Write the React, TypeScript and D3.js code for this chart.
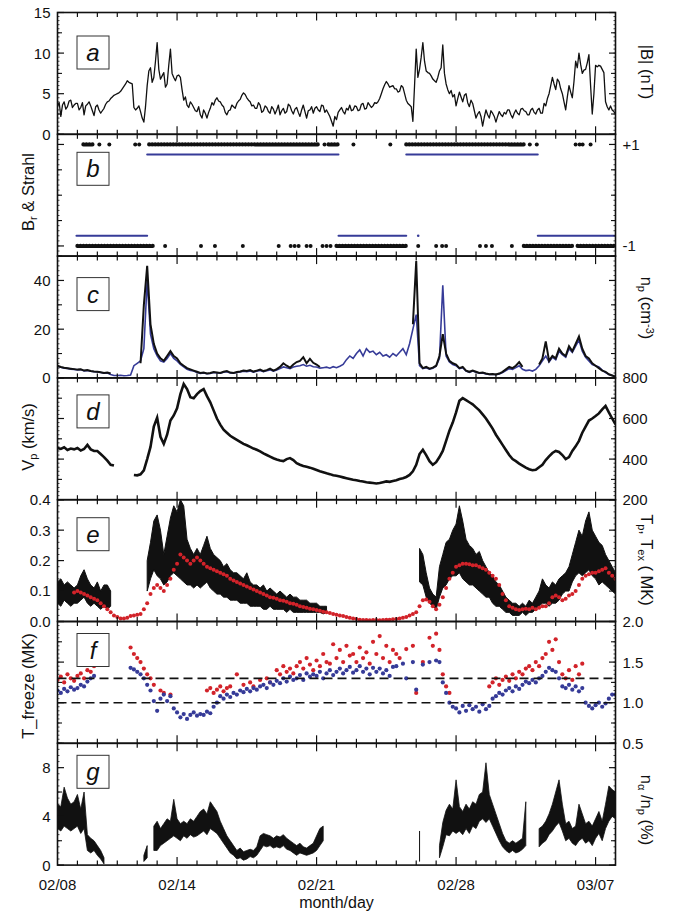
import React, { useEffect, useRef } from 'react';
import * as d3 from 'd3';

// samples every 4 h starting 02/08 00:00 UT (6 per day, 169 values)
const startDay = Date.UTC(2009, 1, 8);
const endDay = Date.UTC(2009, 2, 8);
const dateTickDays = [0, 6, 13, 20, 27];
const dateTickLabels = ['02/08', '02/14', '02/21', '02/28', '03/07'];

// |B| (nT), every 2 h (12 per day, 337 values)
const bMag = [
  3.5, 3.9, 2.2, 3.6, 4.0, 3.1, 3.4, 4.1, 4.2, 3.3, 3.6, 3.8,
  3.8, 3.0, 3.3, 3.9, 2.4, 3.5, 3.7, 4.0, 3.5, 2.9, 2.3, 3.4,
  3.6, 3.0, 2.6, 2.9, 3.2, 3.7, 4.0, 4.1, 4.4, 4.6, 4.8, 4.9,
  5.0, 5.1, 5.3, 5.6, 5.9, 6.2, 6.6, 6.4, 6.3, 6.2, 3.3, 3.0,
  3.2, 3.5, 2.8, 2.0, 1.5, 3.4, 6.0, 7.8, 8.2, 6.4, 7.0, 9.0,
  11.3, 8.0, 6.8, 7.2, 7.6, 5.8, 6.2, 8.5, 10.5, 7.5, 7.0, 6.6,
  7.2, 7.3, 7.0, 5.5, 4.2, 4.6, 3.6, 3.3, 4.0, 3.7, 3.3, 2.9,
  2.8, 3.4, 2.4, 2.0, 3.0, 2.6, 2.0, 2.7, 3.2, 3.9, 3.6, 4.2,
  4.5, 4.1, 4.0, 3.6, 3.4, 2.7, 2.4, 2.9, 3.0, 3.6, 3.4, 3.2,
  3.8, 4.1, 4.3, 4.8, 5.1, 4.9, 4.5, 4.2, 4.0, 3.5, 3.6, 3.2,
  3.2, 3.9, 3.6, 2.7, 2.9, 3.5, 3.3, 2.8, 2.6, 3.4, 3.1, 2.5,
  3.0, 3.6, 2.4, 2.9, 3.2, 2.6, 2.8, 3.7, 3.5, 2.9, 2.5, 3.1,
  3.3, 2.7, 2.2, 3.0, 3.6, 2.8, 2.0, 2.9, 3.0, 3.4, 2.6, 3.2,
  3.4, 3.0, 2.8, 3.6, 3.5, 2.7, 3.0, 2.6, 2.2, 1.6, 1.0, 2.2,
  1.8, 2.7, 3.0, 3.3, 2.8, 2.5, 3.2, 3.0, 3.6, 2.9, 3.0, 3.5,
  3.4, 2.9, 3.0, 3.7, 3.8, 3.1, 3.2, 3.9, 3.6, 3.3, 3.5, 3.9,
  3.8, 4.0, 4.4, 5.0, 5.6, 6.1, 6.5, 6.2, 5.8, 5.9, 6.0, 5.6,
  5.6, 5.2, 5.3, 6.0, 5.8, 5.0, 4.2, 3.8, 3.6, 3.4, 1.6, 6.0,
  10.5, 7.0, 8.0, 9.5, 11.3, 9.0, 7.8, 7.6, 7.5, 7.2, 6.8, 6.6,
  6.4, 7.0, 7.8, 8.2, 11.0, 7.5, 6.2, 5.5, 5.0, 5.4, 4.6, 4.9,
  3.5, 4.4, 5.2, 4.6, 4.0, 4.8, 5.0, 3.9, 3.4, 4.2, 3.8, 2.9,
  2.0, 2.5, 2.8, 2.2, 1.0, 2.1, 3.0, 2.4, 2.0, 2.9, 2.6, 2.2,
  1.5, 2.2, 2.8, 2.4, 2.2, 2.7, 2.5, 3.0, 3.0, 2.4, 2.0, 2.6,
  3.0, 2.6, 2.4, 3.1, 3.2, 2.9, 2.8, 2.4, 2.4, 3.0, 3.2, 2.7,
  2.5, 3.0, 3.2, 2.6, 2.6, 3.8, 3.5, 4.4, 5.0, 6.0, 7.0, 6.2,
  5.5, 6.8, 6.5, 5.6, 5.0, 4.0, 3.0, 4.6, 6.0, 5.2, 4.5, 6.5,
  9.0, 8.2, 10.0, 8.6, 7.5, 7.9, 8.0, 8.8, 9.8, 6.0, 2.5, 5.0,
  8.5, 8.3, 8.5, 8.4, 8.0, 7.6, 4.0, 3.4, 3.0, 3.5, 3.0, 2.8,
  2.5,
];

// Br sign dots (days since 02/08): dense runs and single points
const brPlusRuns = [[1.3, 1.9], [4.6, 13.2], [13.6, 14.1], [17.5, 23.4]];
const brPlusDots = [2.1, 2.6, 3.9, 4.1, 13.4, 14.85, 16.7, 23.7, 24.05, 26.0, 26.2, 26.35, 26.75];
const brMinusRuns = [[1.0, 4.8], [14.0, 17.6], [23.4, 25.9], [26.1, 28]];
const brMinusDots = [5.4, 7.2, 7.9, 9.3, 11.1, 11.7, 11.9, 12.1, 12.5, 12.7, 13.3, 13.5, 13.7, 18.1, 19.0, 19.3, 19.5, 21.2, 21.5, 21.8, 22.8];
// strahl polarity sectors
const strahlPlus = [[4.5, 14.1], [17.5, 24.1]];
const strahlMinus = [[0.95, 4.5], [14.1, 17.5], [24.1, 28]];
const strahlMinusDots = [18.1];

// n_p (cm^-3), two instruments
const npBlack = [
  5.0, 4.5, 4.2, 4.0, 3.8, 3.6,
  3.4, 3.5, 3.0, 3.2, 2.8, 2.6,
  2.5, 2.3, 2.0, 2.2, 1.8, null,
  null, null, null, null, null, null,
  null, 6.0, 30.0, 46.0, 22.0, 14.0,
  10.0, 8.0, 7.0, 9.0, 11.0, 9.0,
  8.0, 6.0, 5.0, 4.0, 3.5, 3.0,
  2.5, 2.0, 2.2, 1.8, 2.0, 2.4,
  2.2, 2.0, 2.5, 2.8, 2.2, 2.0,
  2.4, 2.6, 3.0, 2.8, 3.2, 2.6,
  3.0, 3.4, 2.8, 3.2, 3.8, 3.0,
  3.6, 4.5, 6.0, 5.0, 4.2, 5.5,
  6.5, 7.0, 8.5, 6.0, 7.8, 6.2,
  5.5, 4.5, null, null, null, null,
  null, null, null, null, null, null,
  null, null, null, null, null, null,
  null, null, null, null, null, null,
  null, null, null, null, null, 22.0,
  48.0, 6.0, 4.0, 4.5, 3.8, 4.2,
  5.0, 9.0, 18.0, 10.0, 7.0, 6.0,
  5.5, 4.0, 4.5, 3.0, 2.5, 3.0,
  2.5, 2.0, 2.2, 1.8, 1.5, 1.6,
  1.4, 1.8, 2.5, 3.5, 4.5, 4.0,
  5.0, 6.5, 4.5, null, null, null,
  null, 5.5, 8.0, 15.0, 7.0, 9.0,
  8.0, 12.0, 10.0, 9.0, 13.0, 11.0,
  14.0, 17.0, 12.0, 9.0, 8.0, 6.0,
  5.0, 4.0, 3.0, 2.5, 1.5, 1.0,
  0.5,
];
const npBlue = [
  4.8, 4.4, 4.0, 3.9, 3.6, 3.5,
  3.3, 3.4, 2.9, 3.0, 2.7, 2.5,
  2.4, 2.2, 1.9, 2.0, 1.4, 1.0,
  1.0, 1.1, 0.9, 1.0, 1.2, 5.0,
  6.0, 7.0, 12.0, 40.0, 18.0, 12.0,
  9.0, 7.0, 6.5, 8.0, 10.0, 8.0,
  7.0, 5.5, 4.5, 3.5, 3.0, 2.8,
  2.2, 1.8, 2.0, 1.7, 1.8, 2.2,
  2.0, 1.9, 2.3, 2.5, 2.0, 1.9,
  2.2, 2.4, 2.7, 2.5, 2.8, 2.4,
  2.7, 3.0, 2.6, 2.9, 3.3, 2.8,
  3.2, 3.8, 4.5, 4.2, 3.8, 4.5,
  4.8, 5.0, 5.5, 4.8, 5.2, 4.6,
  4.5, 4.0, 4.2, 4.4, 4.0, 4.6,
  4.2, 4.8, 5.5, 7.5, 9.0, 8.0,
  10.0, 11.5, 9.0, 12.0, 10.5, 11.0,
  9.5, 10.5, 9.0, 9.5, 8.5, 10.0,
  9.0, 10.5, 12.0, 9.5, 14.0, 20.0,
  26.0, 5.0, 3.8, 4.2, 3.6, 4.0,
  4.8, 8.0, 38.0, 9.0, 6.5, 5.5,
  5.0, 3.8, 4.2, 2.8, 2.3, 2.8,
  2.3, 1.9, 2.0, 1.6, 1.4, 1.5,
  1.3, 1.6, 2.2, 3.0, 3.8, 3.5,
  4.2, 5.0, 3.5, 3.0, 3.2, 2.8,
  3.5, 5.0, 7.0, 9.0, 6.5, 8.5,
  7.5, 11.0, 9.5, 8.5, 12.0, 10.5,
  13.0, 15.5, 11.0, 8.5, 7.0, 5.5,
  5.0, 4.5, 3.2, 2.2, 1.4, 1.0,
  0.5,
];

// V_p (km/s)
const vp = [
  455, 450, 458, 445, 452, 448,
  455, 442, 450, 470, 448, 440,
  440, 425, 410, 392, 372, 368,
  null, null, null, null, null, 322,
  320, 325, 345, 400, 460, 560,
  604, 510, 475, 520, 590, 615,
  650, 720, 770, 745, 705, 700,
  720, 735, 745, 710, 680, 640,
  600, 570, 545, 530, 515, 505,
  495, 485, 475, 468, 460, 452,
  446, 438, 428, 420, 412, 404,
  398, 393, 390, 400, 405, 395,
  380, 372, 366, 362, 358, 352,
  346, 340, 335, 330, 326, 320,
  318, 314, 310, 306, 302, 298,
  296, 292, 290, 286, 284, 282,
  280, 282, 286, 290, 288, 292,
  296, 302, 306, 312, 322, 340,
  372, 425, 446, 420, 390, 372,
  385, 410, 440, 490, 540, 580,
  630, 687, 700, 690, 680, 670,
  655, 640, 620, 600, 575, 550,
  520, 495, 470, 445, 420, 400,
  390, 378, 368, 358, 350, 345,
  347, 360, 372, 395, 413, 430,
  440, 435, 420, 400, 410, 440,
  463, 490, 530, 560, 590, 600,
  612, 625, 645, 662, 630, 600,
  571,
];

// T_p spread (MK): [low, high] per 4 h
const tpBand = [
  [0.06, 0.13], [0.05, 0.14], [0.07, 0.12], [0.06, 0.13], [0.05, 0.12], [0.06, 0.11],
  [0.06, 0.12], [0.07, 0.15], [0.08, 0.17], [0.06, 0.14], [0.05, 0.12], [0.06, 0.11],
  [0.05, 0.13], [0.04, 0.10], [0.05, 0.12], [0.04, 0.12], [0.05, 0.10], null,
  null, null, null, null, null, null,
  null, null, null, [0.10, 0.20], [0.14, 0.26], [0.17, 0.33],
  [0.15, 0.35], [0.14, 0.30], [0.12, 0.22], [0.13, 0.28], [0.15, 0.34], [0.16, 0.38],
  [0.15, 0.36], [0.14, 0.40], [0.13, 0.38], [0.12, 0.27], [0.12, 0.24], [0.11, 0.22],
  [0.12, 0.24], [0.11, 0.22], [0.12, 0.25], [0.13, 0.28], [0.11, 0.24], [0.10, 0.22],
  [0.09, 0.21], [0.09, 0.20], [0.08, 0.18], [0.08, 0.19], [0.07, 0.17], [0.07, 0.16],
  [0.07, 0.16], [0.06, 0.15], [0.06, 0.14], [0.06, 0.16], [0.05, 0.13], [0.05, 0.12],
  [0.05, 0.12], [0.05, 0.11], [0.04, 0.12], [0.04, 0.10], [0.05, 0.11], [0.04, 0.10],
  [0.04, 0.09], [0.04, 0.10], [0.04, 0.09], [0.03, 0.08], [0.04, 0.09], [0.03, 0.08],
  [0.03, 0.08], [0.03, 0.07], [0.03, 0.07], [0.03, 0.07], [0.03, 0.06], [0.03, 0.06],
  [0.03, 0.06], [0.03, 0.05], [0.025, 0.05], [0.03, 0.05], null, null,
  null, null, null, null, null, null,
  null, null, null, null, null, null,
  null, null, null, null, null, null,
  null, null, null, null, null, null,
  null, [0.13, 0.24], [0.12, 0.22], [0.08, 0.16], [0.06, 0.11], [0.05, 0.09],
  [0.04, 0.08], [0.08, 0.18], [0.11, 0.22], [0.12, 0.26], [0.14, 0.27], [0.15, 0.30],
  [0.15, 0.32], [0.16, 0.38], [0.14, 0.33], [0.13, 0.27], [0.12, 0.25], [0.12, 0.24],
  [0.11, 0.22], [0.10, 0.23], [0.09, 0.20], [0.08, 0.18], [0.08, 0.16], [0.06, 0.15],
  [0.05, 0.13], [0.05, 0.12], [0.04, 0.10], [0.03, 0.08], [0.03, 0.07], [0.02, 0.06],
  [0.02, 0.06], [0.02, 0.05], [0.03, 0.06], [0.02, 0.05], [0.03, 0.07], [0.03, 0.06],
  [0.04, 0.08], [0.05, 0.10], [0.06, 0.14], [0.06, 0.12], [0.05, 0.11], [0.06, 0.13],
  [0.06, 0.12], [0.07, 0.14], [0.09, 0.15], [0.10, 0.16], [0.10, 0.18], [0.13, 0.22],
  [0.15, 0.26], [0.16, 0.30], [0.15, 0.28], [0.16, 0.33], [0.17, 0.36], [0.15, 0.30],
  [0.14, 0.28], [0.12, 0.26], [0.13, 0.25], [0.12, 0.22], [0.11, 0.20], [0.10, 0.18],
  [0.09, 0.16],
];

// T_ex (MK)
const tex = [
  null, null, null, null, null, 0.095,
  0.10, 0.095, 0.09, 0.085, 0.08, 0.075,
  0.07, 0.06, 0.05, 0.04, 0.03, 0.02,
  0.015, 0.01, 0.01, 0.012, 0.018, 0.02,
  0.022, 0.025, 0.04, 0.06, 0.09, 0.11,
  0.12, 0.11, 0.10, 0.12, 0.14, 0.17,
  0.19, 0.22, 0.21, 0.20, 0.19, 0.20,
  0.21, 0.20, 0.19, 0.18, 0.175, 0.17,
  0.165, 0.16, 0.155, 0.15, 0.14, 0.135,
  0.13, 0.125, 0.12, 0.115, 0.11, 0.105,
  0.10, 0.095, 0.09, 0.085, 0.08, 0.078,
  0.075, 0.07, 0.068, 0.065, 0.06, 0.058,
  0.055, 0.05, 0.048, 0.045, 0.042, 0.04,
  0.038, 0.035, 0.032, 0.03, 0.028, 0.025,
  0.022, 0.02, 0.018, 0.015, 0.012, 0.01,
  0.008, 0.006, 0.005, 0.005, 0.004, 0.005,
  0.005, 0.004, 0.005, 0.006, 0.006, 0.007,
  0.008, 0.01, 0.012, 0.015, 0.02, 0.025,
  0.03, 0.05, 0.07, 0.072, 0.065, 0.05,
  0.04, 0.055, 0.08, 0.11, 0.14, 0.16,
  0.18, 0.185, 0.19, 0.19, 0.188, 0.185,
  0.185, 0.18, 0.175, 0.17, 0.16, 0.15,
  0.14, 0.12, 0.09, 0.07, 0.05, 0.045,
  0.04, 0.038, 0.04, 0.042, 0.04, 0.045,
  0.04, 0.045, 0.05, 0.05, 0.06, 0.08,
  0.085, 0.08, 0.07, 0.075, 0.085, 0.09,
  0.10, 0.12, 0.14, 0.15, 0.155, 0.16,
  0.16, 0.165, 0.17, 0.175, 0.16, 0.15,
  0.14,
];

// freeze-in temperatures (MK), two ion pairs
const tfRed = [
  1.28, 1.32, 1.25, 1.35, 1.3, 1.27,
  1.33, 1.36, 1.3, 1.4, 1.38, 1.45,
  null, null, null, null, null, null,
  null, null, null, null, 1.68, 1.6,
  1.55, 1.5, 1.42, 1.35, 1.3, 1.22,
  null, 1.15, 1.12, null, 1.1, null,
  null, null, null, null, null, null,
  null, null, null, 1.15, 1.18, 1.12,
  1.16, 1.2, 1.14, 1.18, 1.2, null,
  1.35, null, 1.22, null, 1.25, 1.2,
  null, 1.28, null, 1.3, 1.25, null,
  1.4, 1.35, 1.45, 1.38, 1.42, 1.36,
  1.45, 1.5, 1.42, 1.55, 1.47, 1.4,
  1.52, 1.45, 1.6, 1.5, 1.48, 1.72,
  1.55, 1.65, 1.5, 1.7, 1.58, 1.6,
  1.5, 1.68, 1.55, 1.62, 1.48, 1.75,
  1.6, 1.82, 1.55, 1.7, 1.5, 1.65,
  1.6, 1.55, null, 1.66, null, 1.7,
  1.12, null, 1.5, null, 1.8, 1.7,
  1.85, 1.65, 1.35, 1.2, 1.12, null,
  null, null, null, null, null, null,
  null, null, null, null, 1.2, 1.25,
  1.3, 1.22, 1.28, 1.32, 1.27, 1.35,
  1.3, 1.38, 1.35, 1.42, 1.45, 1.4,
  1.5, 1.45, 1.55, 1.6, 1.75, 1.65,
  1.78, 1.5, 1.35, 1.3, 1.4, 1.28,
  1.45, 1.35, 1.48, null, null, null,
  null, null, null, null, null, null,
  null,
];
const tfBlue = [
  1.15, 1.12, 1.17, 1.14, 1.19, 1.16,
  1.18, 1.22, 1.2, 1.26, 1.3, 1.33,
  null, null, null, null, null, null,
  null, null, null, null, 1.43, 1.41,
  1.38, 1.35, 1.3, 1.22, 1.15, 1.02,
  0.9, 1.05, 1.1, 1.02, 1.08, 0.93,
  0.88, 0.82, 0.86, 0.8, 0.85, 0.88,
  0.84, 0.86, 0.85, 0.89, 0.87, 0.95,
  1.0, 1.08, 1.05, 1.1, 1.07, 1.12,
  1.1, 1.15, 1.13, 1.17, 1.14, 1.18,
  1.16, 1.2, 1.22, 1.18, 1.25, 1.22,
  1.27, 1.24, 1.3, 1.26, 1.32, 1.28,
  1.3, 1.34, 1.28, 1.36, 1.32, 1.35,
  1.33, 1.38, 1.3, 1.36, 1.4, 1.34,
  1.38, 1.42, 1.36, 1.4, 1.44, 1.37,
  1.4, 1.45, 1.38, 1.42, 1.35, 1.43,
  1.38, 1.42, 1.36, 1.4, 1.33, 1.44,
  1.45, null, 1.48, 1.3, null, 1.5,
  1.16, null, 1.47, null, 1.5, null,
  1.52, 1.5, 1.25, 1.12, 1.0, 0.95,
  0.93, 0.88, 0.96, 0.9, 0.97, 0.92,
  0.95, 0.89, 0.98, 0.92, 0.96, 1.05,
  1.08, 1.12, 1.1, 1.15, 1.18, 1.14,
  1.2, 1.17, 1.22, 1.26, 1.24, 1.28,
  1.25, 1.3, 1.33, 1.38, 1.43, 1.4,
  1.38, 1.3, 1.2, 1.18, 1.22, 1.16,
  1.2, 1.14, 1.18, 1.0, 0.96, 0.93,
  0.97, 1.0, 0.95, 0.99, 1.05, 1.1,
  1.1,
];
const tfRefLevels = [1.3, 1.0];

// n_alpha / n_p (%) spread: [low, high]
const alphaBand = [
  [3.0, 5.0], [2.8, 4.8], [3.2, 6.4], [3.0, 5.5], [2.8, 5.0], [3.0, 5.2],
  [3.2, 5.8], [2.6, 4.6], [3.0, 6.0], [1.2, 2.5], [1.0, 2.2], [1.2, 2.0],
  [0.8, 1.6], [0.5, 1.2], [0.1, 0.6], null, null, null,
  null, null, null, null, null, null,
  null, null, [0.3, 0.8], [0.6, 1.6], null, [1.2, 3.2],
  [1.2, 3.6], [1.6, 3.0], [1.8, 3.4], [2.0, 3.8], [2.2, 3.6], [2.4, 5.4],
  [2.2, 3.8], [2.0, 3.4], [2.4, 3.6], [2.2, 3.4], [2.5, 3.8], [2.3, 3.6],
  [2.4, 4.0], [2.6, 4.4], [2.8, 4.6], [2.5, 4.2], [3.0, 5.2], [2.8, 4.8],
  [2.6, 4.4], [2.2, 3.6], [1.8, 3.0], [1.4, 2.4], [1.0, 2.0], [0.8, 1.6],
  [0.5, 1.2], [0.6, 1.4], [0.4, 1.1], [0.5, 1.2], [0.7, 1.3], [0.6, 1.2],
  [0.8, 1.5], [1.2, 2.4], [1.6, 2.6], [1.5, 2.5], [1.6, 2.4], [1.4, 2.2],
  [1.5, 2.4], [1.4, 2.3], [1.6, 2.5], [1.3, 2.2], [1.2, 2.0], [1.0, 1.8],
  [0.8, 1.6], [1.0, 1.8], [0.9, 1.5], [0.8, 1.4], [0.9, 1.6], [1.0, 1.8],
  [1.2, 2.4], [1.6, 3.0], [2.0, 3.2], null, null, null,
  null, null, null, null, null, null,
  null, null, null, null, null, null,
  null, null, null, null, null, null,
  null, null, null, null, null, null,
  null, [0.3, 2.8], null, null, null, null,
  null, [0.6, 1.6], [1.5, 3.5], [2.5, 4.5], [2.4, 5.0], [2.8, 4.6],
  [2.6, 7.0], [2.8, 4.8], [2.5, 4.4], [3.0, 5.0], [2.6, 4.6], [3.2, 5.2],
  [3.0, 5.0], [3.6, 5.8], [3.8, 6.0], [3.5, 8.4], [3.8, 5.8], [3.2, 5.0],
  [2.6, 4.2], [2.0, 3.4], [1.5, 2.6], [1.2, 2.0], [1.0, 1.8], [1.2, 2.0],
  [1.0, 1.8], [1.1, 2.0], [1.3, 2.2], [1.6, 5.2], null, null,
  null, [1.5, 3.0], [1.8, 3.2], [2.0, 3.6], [2.5, 4.2], [2.8, 5.0],
  [3.2, 6.0], [3.5, 7.0], [2.8, 5.0], [2.0, 3.4], [2.2, 3.6], [1.8, 3.0],
  [1.6, 3.2], [2.0, 5.0], [2.2, 4.2], [1.8, 3.4], [2.0, 3.6], [1.6, 3.2],
  [2.2, 3.8], [2.6, 4.4], [2.0, 3.6], [3.0, 5.0], [3.6, 6.5], [4.0, 6.2],
  [3.8, 6.0],
];

const BLUE = '#363b98';
const RED = '#d2232a';
const FONT = '"Liberation Sans", Arial, sans-serif';

const panels = [
  { id: 'a', domain: [0, 15], labels: [0, 5, 10, 15], side: 'left', fmt: (v) => String(v), mid: [2.5, 7.5, 12.5], fine: 0.5, boxY: 23.5 },
  { id: 'b', domain: [-1.2, 1.2], labels: [1, -1], side: 'right', fmt: (v) => (v > 0 ? '+1' : '-1'), mid: [-0.5, 0, 0.5], fine: 0.1, boxY: 18 },
  { id: 'c', domain: [0, 50], labels: [0, 20, 40], side: 'left', fmt: (v) => String(v), mid: [10, 30, 50], fine: 2, boxY: 21.5 },
  { id: 'd', domain: [200, 800], labels: [200, 400, 600, 800], side: 'right', fmt: (v) => String(v), mid: [300, 500, 700], fine: 20, boxY: 17 },
  { id: 'e', domain: [0, 0.4], labels: [0, 0.1, 0.2, 0.3, 0.4], side: 'left', fmt: (v) => v.toFixed(1), mid: [], fine: 0.02, boxY: 18 },
  { id: 'f', domain: [0.5, 2.0], labels: [0.5, 1.0, 1.5, 2.0], side: 'right', fmt: (v) => v.toFixed(1), mid: [0.75, 1.25, 1.75], fine: 0.05, boxY: 12 },
  { id: 'g', domain: [0, 10], labels: [0, 4, 8], side: 'left', fmt: (v) => String(v), mid: [2, 6, 10], fine: 0.5, boxY: 12 },
];

export default function App() {
  const ref = useRef(null);

  useEffect(() => {
    const svg = d3.select(ref.current);
    svg.selectAll('*').remove();

    const X0 = 57.5, X1 = 615.5, TOP = 12.5, PH = 121.8;
    const x = d3.scaleUtc().domain([new Date(startDay), new Date(endDay)]).range([X0, X1]);
    const at = (i, step = 4) => new Date(startDay + i * step * 3600e3);
    const atDay = (d) => new Date(startDay + d * 86400e3);
    const defs = svg.append('defs');

    panels.forEach((p, k) => {
      const top = TOP + k * PH;
      const bot = top + PH;
      const y = d3.scaleLinear().domain(p.domain).range([bot, top]);

      defs.append('clipPath').attr('id', 'clip-' + p.id)
        .append('rect').attr('x', X0).attr('y', top).attr('width', X1 - X0).attr('height', PH);
      const plot = svg.append('g').attr('clip-path', `url(#clip-${p.id})`);

      const line = (arr, step = 4) => d3.line()
        .defined((v) => v != null)
        .x((_, i) => x(at(i, step)))
        .y((v) => y(v))(arr);
      const band = (arr) => d3.area()
        .defined((v) => v != null)
        .x((_, i) => x(at(i)))
        .y0((v) => y(v[0]))
        .y1((v) => y(v[1]))(arr);
      const dots = (arr, color, r) => plot.append('g').selectAll('circle')
        .data(arr.map((v, i) => [i, v]).filter((d) => d[1] != null))
        .join('circle')
        .attr('cx', (d) => x(at(d[0])))
        .attr('cy', (d) => y(d[1]))
        .attr('r', r)
        .attr('fill', color);

      if (p.id === 'a') {
        plot.append('path').attr('d', line(bMag, 2)).attr('fill', 'none').attr('stroke', '#111')
          .attr('stroke-width', 1.3).attr('stroke-linejoin', 'round');
      }
      if (p.id === 'b') {
        const runs = (list, val, color, w, dash) => plot.append('g').selectAll('line').data(list).join('line')
          .attr('x1', (d) => x(atDay(d[0]))).attr('x2', (d) => x(atDay(d[1])))
          .attr('y1', y(val)).attr('y2', y(val))
          .attr('stroke', color).attr('stroke-width', w).attr('stroke-linecap', 'round')
          .attr('stroke-dasharray', dash);
        const pts = (list, val, color, r) => plot.append('g').selectAll('circle').data(list).join('circle')
          .attr('cx', (d) => x(atDay(d))).attr('cy', y(val)).attr('r', r).attr('fill', color);
        runs(brPlusRuns, 1, '#111', 4.2, '0.01,3');
        runs(brMinusRuns, -1, '#111', 4.2, '0.01,3');
        pts(brPlusDots, 1, '#111', 2);
        pts(brMinusDots, -1, '#111', 2);
        runs(strahlPlus, 0.8, BLUE, 2, null);
        runs(strahlMinus, -0.8, BLUE, 2, null);
        pts(strahlMinusDots, -0.8, BLUE, 1.3);
      }
      if (p.id === 'c') {
        plot.append('path').attr('d', line(npBlue)).attr('fill', 'none').attr('stroke', BLUE).attr('stroke-width', 1.6);
        plot.append('path').attr('d', line(npBlack)).attr('fill', 'none').attr('stroke', '#111').attr('stroke-width', 2);
      }
      if (p.id === 'd') {
        plot.append('path').attr('d', line(vp)).attr('fill', 'none').attr('stroke', '#111').attr('stroke-width', 2.6);
      }
      if (p.id === 'e') {
        plot.append('path').attr('d', band(tpBand)).attr('fill', '#111').attr('stroke', '#111').attr('stroke-width', 1);
        dots(tex, RED, 2);
      }
      if (p.id === 'f') {
        dots(tfRed, RED, 2.1);
        dots(tfBlue, BLUE, 2.1);
        plot.append('g').selectAll('line').data(tfRefLevels).join('line')
          .attr('x1', X0).attr('x2', X1).attr('y1', (d) => y(d)).attr('y2', (d) => y(d))
          .attr('stroke', '#111').attr('stroke-width', 1.6).attr('stroke-dasharray', '9,5');
      }
      if (p.id === 'g') {
        plot.append('path').attr('d', band(alphaBand)).attr('fill', '#111').attr('stroke', '#111').attr('stroke-width', 0.8);
      }

      // frame
      svg.append('rect').attr('x', X0).attr('y', top).attr('width', X1 - X0).attr('height', PH)
        .attr('fill', 'none').attr('stroke', '#111').attr('stroke-width', 1.6);

      // x ticks top and bottom (daily, weekly marks longer)
      const tk = svg.append('g').attr('stroke', '#111').attr('stroke-width', 1.2);
      d3.range(1, 28).forEach((d) => {
        const len = dateTickDays.includes(d) ? 8 : 4.5;
        const xx = x(atDay(d));
        tk.append('line').attr('x1', xx).attr('x2', xx).attr('y1', top).attr('y2', top + len);
        tk.append('line').attr('x1', xx).attr('x2', xx).attr('y1', bot).attr('y2', bot - len);
      });

      // y ticks both sides
      const yt = svg.append('g').attr('stroke', '#111');
      const [lo, hi] = p.domain;
      const fineVals = d3.range(lo, hi + 1e-9, p.fine);
      const addY = (v, len, w) => {
        yt.append('line').attr('x1', X0).attr('x2', X0 + len).attr('y1', y(v)).attr('y2', y(v)).attr('stroke-width', w);
        yt.append('line').attr('x1', X1).attr('x2', X1 - len).attr('y1', y(v)).attr('y2', y(v)).attr('stroke-width', w);
      };
      fineVals.forEach((v) => addY(v, 2, 0.8));
      p.mid.forEach((v) => addY(v, 4.5, 1.1));
      p.labels.forEach((v) => addY(v, 6.5, 1.2));

      svg.append('g').selectAll('text').data(p.labels).join('text')
        .attr('x', p.side === 'left' ? X0 - 7 : X1 + 7)
        .attr('y', (d) => y(d))
        .attr('dy', '0.36em')
        .attr('text-anchor', p.side === 'left' ? 'end' : 'start')
        .attr('font-family', FONT).attr('font-size', 15).attr('fill', '#111')
        .text((d) => p.fmt(d));

      // panel letter box
      svg.append('rect').attr('x', 77).attr('y', top + p.boxY).attr('width', 32).attr('height', 33)
        .attr('fill', 'white').attr('stroke', '#333').attr('stroke-width', 1);
      svg.append('text').attr('x', 93).attr('y', top + p.boxY + 25)
        .attr('text-anchor', 'middle').attr('font-family', FONT).attr('font-size', 24)
        .attr('font-style', 'italic').attr('fill', '#111').text(p.id);
    });

    // date labels
    svg.append('g').selectAll('text').data(dateTickDays).join('text')
      .attr('x', (d) => x(atDay(d))).attr('y', TOP + 7 * PH + 25)
      .attr('text-anchor', 'middle').attr('font-family', FONT).attr('font-size', 15).attr('fill', '#111')
      .text((_, i) => dateTickLabels[i]);
    svg.append('text').attr('x', (X0 + X1) / 2).attr('y', TOP + 7 * PH + 43)
      .attr('text-anchor', 'middle').attr('font-family', FONT).attr('font-size', 16).attr('fill', '#111')
      .text('month/day');

    // axis titles with sub/superscripts
    const title = (xx, yy, rot, parts) => {
      const t = svg.append('text').attr('transform', `translate(${xx},${yy}) rotate(${rot})`)
        .attr('text-anchor', 'middle').attr('font-family', FONT).attr('font-size', 16.5).attr('fill', '#111');
      parts.forEach(([s, kind]) => {
        const ts = t.append('tspan').text(s);
        if (kind === 'sub') ts.attr('font-size', 11).attr('baseline-shift', '-30%');
        if (kind === 'sup') ts.attr('font-size', 11).attr('baseline-shift', '45%');
      });
    };
    title(34, 192, -90, [['B', ''], ['r', 'sub'], [' & Strahl', '']]);
    title(34, 437, -90, [['V', ''], ['p', 'sub'], [' (km/s)', '']]);
    title(34, 686, -90, [['T_freeze  (MK)', '']]);
    title(641, 72, 90, [['|B| (nT)', '']]);
    title(641, 308, 90, [['n', ''], ['p', 'sub'], [' (cm', ''], ['-3', 'sup'], [')', '']]);
    title(641, 560, 90, [['T', ''], ['p', 'sub'], [', T', ''], ['ex', 'sub'], ['  ( MK)', '']]);
    title(641, 810, 90, [['n', ''], ['\u03b1', 'sub'], [' /n', ''], ['p', 'sub'], ['   (%)', '']]);
  }, []);

  return (
    <svg ref={ref} width={682} height={913}
      style={{ position: 'absolute', left: 0, top: 0, background: 'white' }} />
  );
}
